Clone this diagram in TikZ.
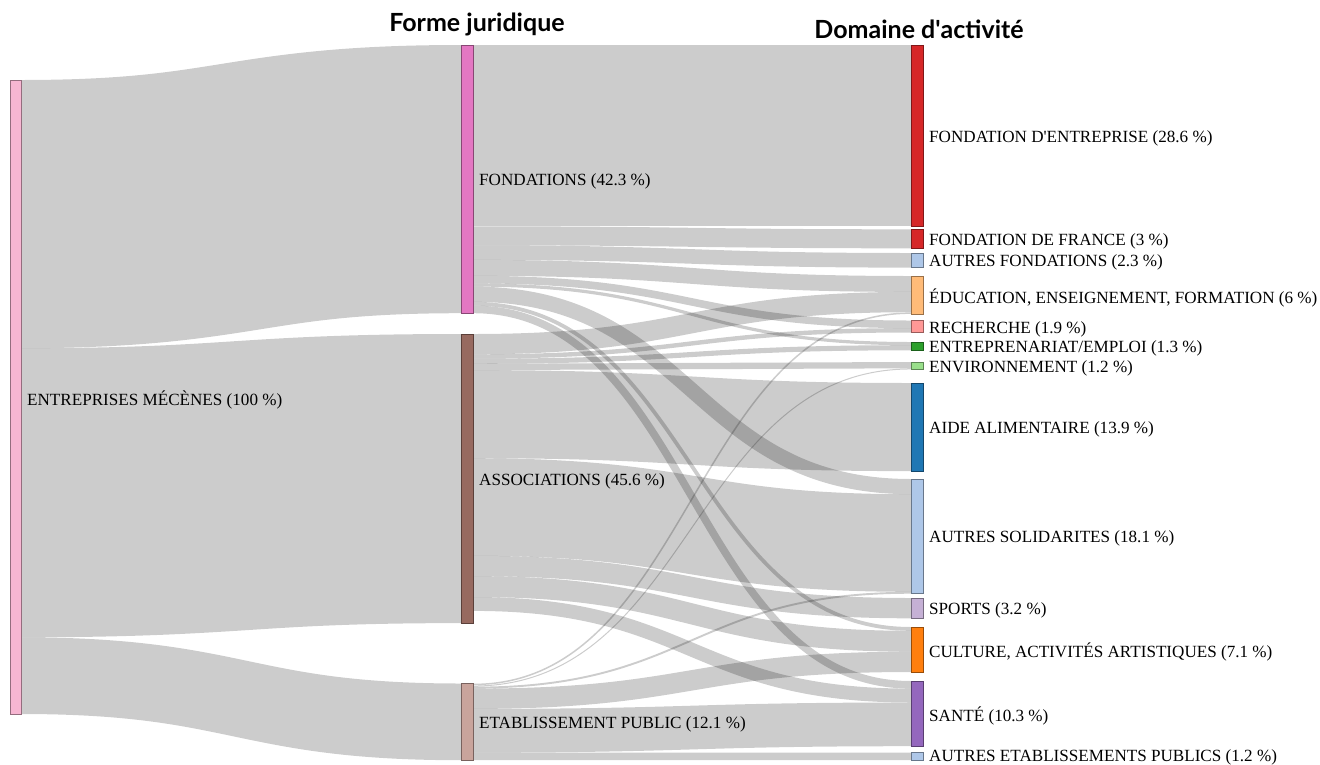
\documentclass[tikz,border=0pt]{standalone}
\usepackage{fontspec}
\setmainfont{Liberation Serif}
\newfontfamily\titlefont{Lato}
\usetikzlibrary{positioning,backgrounds}

\definecolor{pinkL}{HTML}{F7B6D2}
\definecolor{pink}{HTML}{E377C2}
\definecolor{brown}{HTML}{976A60}
\definecolor{brownL}{HTML}{C9A49C}
\definecolor{red}{HTML}{D62728}
\definecolor{redL}{HTML}{FF9896}
\definecolor{blue}{HTML}{1F77B4}
\definecolor{blueL}{HTML}{AEC7E8}
\definecolor{orange}{HTML}{FF7F0E}
\definecolor{orangeL}{HTML}{FFBB78}
\definecolor{green}{HTML}{2CA02C}
\definecolor{greenL}{HTML}{98DF8A}
\definecolor{purple}{HTML}{9467BD}
\definecolor{purpleL}{HTML}{C5B0D5}

\begin{document}
\begin{tikzpicture}[x=1pt,y=-1pt]
        % Define styles for bars, labels and flows
        \tikzstyle{bar}=[rectangle, inner sep=0pt, outer sep=0pt, minimum width=12pt, anchor=north west, line width=0.6pt]
        \tikzstyle{lbl}=[inner sep=0pt, yshift=-2.5pt, font=\fontsize{17.1}{19}\selectfont]
        \tikzstyle{link}=[draw=black, draw opacity=0.2]
        \tikzstyle{title}=[font=\titlefont\bfseries\fontsize{25}{28}\selectfont]

        \path[use as bounding box] (0,0) rectangle (1320,764);

        % Define bars, column 1 and 2
        \node[bar, fill=pinkL, draw=pinkL!60!black, minimum width=11pt, minimum height=634pt] (ent) at (10,80) {};
        \node[bar, fill=pink, draw=pink!60!black, minimum height=268.2pt] (fond) at (461,45) {};
        \node[bar, fill=brown, draw=brown!60!black, minimum height=289.1pt] (assoc) at (461,334) {};
        \node[bar, fill=brownL, draw=brownL!60!black, minimum height=76.7pt] (etab) at (461,683.5) {};

        % Define bars, column 3
        \node[bar, fill=red, draw=red!60!black, minimum height=181.3pt] (fde) at (911,45) {};
        \node[bar, fill=red, draw=red!60!black, minimum height=19pt] (fdf) at (911,229.3) {};
        \node[bar, fill=blueL, draw=blueL!60!black, minimum height=14.6pt] (afond) at (911,253) {};
        \node[bar, fill=orangeL, draw=orangeL!60!black, minimum height=38.1pt] (edu) at (911,276) {};
        \node[bar, fill=redL, draw=redL!60!black, minimum height=12pt] (rech) at (911,320.5) {};
        \node[bar, fill=green, draw=green!60!black, minimum height=8.3pt] (entr) at (911,342) {};
        \node[bar, fill=greenL, draw=greenL!60!black, minimum height=7.6pt] (envi) at (911,362) {};
        \node[bar, fill=blue, draw=blue!60!black, minimum height=88.1pt] (aide) at (911,383) {};
        \node[bar, fill=blueL, draw=blueL!60!black, minimum height=114.7pt] (asol) at (911,479) {};
        \node[bar, fill=purpleL, draw=purpleL!60!black, minimum height=20.3pt] (sport) at (911,598) {};
        \node[bar, fill=orange, draw=orange!60!black, minimum height=45pt] (cult) at (911,627) {};
        \node[bar, fill=purple, draw=purple!60!black, minimum height=65.2pt] (sante) at (911,681) {};
        \node[bar, fill=blueL, draw=blueL!60!black, minimum height=7.6pt] (aep) at (911,752.5) {};

        % Draw flows
        \begin{scope}[on background layer]
        \draw[link, line width=268.2pt] ([yshift=-134.1pt]ent.north east) .. controls +(220,0) and +(-220,0) .. ([yshift=-134.1pt]fond.north west);
        \draw[link, line width=289.1pt] ([yshift=-412.75pt]ent.north east) .. controls +(220,0) and +(-220,0) .. ([yshift=-144.55pt]assoc.north west);
        \draw[link, line width=76.7pt] ([yshift=-595.65pt]ent.north east) .. controls +(220,0) and +(-220,0) .. ([yshift=-38.35pt]etab.north west);

        \draw[link, line width=181.3pt] ([yshift=-90.65pt]fond.north east) .. controls +(219,0) and +(-219,0) .. ([yshift=-90.65pt]fde.north west);
        \draw[link, line width=19pt] ([yshift=-190.8pt]fond.north east) .. controls +(219,0) and +(-219,0) .. ([yshift=-9.5pt]fdf.north west);
        \draw[link, line width=14.6pt] ([yshift=-207.6pt]fond.north east) .. controls +(219,0) and +(-219,0) .. ([yshift=-7.3pt]afond.north west);
        \draw[link, line width=15.9pt] ([yshift=-222.85pt]fond.north east) .. controls +(219,0) and +(-219,0) .. ([yshift=-7.95pt]edu.north west);
        \draw[link, line width=7.6pt] ([yshift=-234.6pt]fond.north east) .. controls +(219,0) and +(-219,0) .. ([yshift=-3.8pt]rech.north west);
        \draw[link, line width=3.2pt] ([yshift=-240pt]fond.north east) .. controls +(219,0) and +(-219,0) .. ([yshift=-1.6pt]entr.north west);
        \draw[link, line width=15.2pt] ([yshift=-249.2pt]fond.north east) .. controls +(219,0) and +(-219,0) .. ([yshift=-7.6pt]asol.north west);
        \draw[link, line width=3.8pt] ([yshift=-258.7pt]fond.north east) .. controls +(219,0) and +(-219,0) .. ([yshift=-1.9pt]cult.north west);
        \draw[link, line width=7.6pt] ([yshift=-264.4pt]fond.north east) .. controls +(219,0) and +(-219,0) .. ([yshift=-3.8pt]sante.north west);

        \draw[link, line width=20.3pt] ([yshift=-10.15pt]assoc.north east) .. controls +(219,0) and +(-219,0) .. ([yshift=-26.05pt]edu.north west);
        \draw[link, line width=4.4pt] ([yshift=-22.5pt]assoc.north east) .. controls +(219,0) and +(-219,0) .. ([yshift=-9.8pt]rech.north west);
        \draw[link, line width=5.1pt] ([yshift=-27.25pt]assoc.north east) .. controls +(219,0) and +(-219,0) .. ([yshift=-5.75pt]entr.north west);
        \draw[link, line width=6.3pt] ([yshift=-32.95pt]assoc.north east) .. controls +(219,0) and +(-219,0) .. ([yshift=-3.15pt]envi.north west);
        \draw[link, line width=88.1pt] ([yshift=-80.15pt]assoc.north east) .. controls +(219,0) and +(-219,0) .. ([yshift=-44.05pt]aide.north west);
        \draw[link, line width=97.6pt] ([yshift=-173pt]assoc.north east) .. controls +(219,0) and +(-219,0) .. ([yshift=-64pt]asol.north west);
        \draw[link, line width=20.3pt] ([yshift=-231.95pt]assoc.north east) .. controls +(219,0) and +(-219,0) .. ([yshift=-10.15pt]sport.north west);
        \draw[link, line width=20.9pt] ([yshift=-252.55pt]assoc.north east) .. controls +(219,0) and +(-219,0) .. ([yshift=-14.25pt]cult.north west);
        \draw[link, line width=13.9pt] ([yshift=-269.95pt]assoc.north east) .. controls +(219,0) and +(-219,0) .. ([yshift=-14.55pt]sante.north west);

        \draw[link, line width=1.5pt] ([yshift=-0.95pt]etab.north east) .. controls +(219,0) and +(-219,0) .. ([yshift=-37.15pt]edu.north west);
        \draw[link, line width=1pt] ([yshift=-2.55pt]etab.north east) .. controls +(219,0) and +(-219,0) .. ([yshift=-6.95pt]envi.north west);
        \draw[link, line width=1.9pt] ([yshift=-4.15pt]etab.north east) .. controls +(219,0) and +(-219,0) .. ([yshift=-113.75pt]asol.north west);
        \draw[link, line width=20.3pt] ([yshift=-15.25pt]etab.north east) .. controls +(219,0) and +(-219,0) .. ([yshift=-34.85pt]cult.north west);
        \draw[link, line width=43.7pt] ([yshift=-47.25pt]etab.north east) .. controls +(219,0) and +(-219,0) .. ([yshift=-43.35pt]sante.north west);
        \draw[link, line width=7.6pt] ([yshift=-72.9pt]etab.north east) .. controls +(219,0) and +(-219,0) .. ([yshift=-3.8pt]aep.north west);
        \end{scope}

        % Labels
        \node[lbl, right=6pt of ent] (enttxt) {ENTREPRISES MÉCÈNES (100 \%)};
        \node[lbl, right=6pt of fond] (fondtxt) {FONDATIONS (42.3 \%)};
        \node[lbl, right=6pt of assoc] (assoctxt) {ASSOCIATIONS (45.6 \%)};
        \node[lbl, right=6pt of etab] (etabtxt) {ETABLISSEMENT PUBLIC (12.1 \%)};
        \node[lbl, right=6pt of fde] (fdetxt) {FONDATION D\textquotesingle ENTREPRISE (28.6 \%)};
        \node[lbl, right=6pt of fdf] (fdftxt) {FONDATION DE FRANCE (3 \%)};
        \node[lbl, right=6pt of afond] (afondtxt) {AUTRES FONDATIONS (2.3 \%)};
        \node[lbl, right=6pt of edu] (edutxt) {ÉDUCATION, ENSEIGNEMENT, FORMATION (6 \%)};
        \node[lbl, right=6pt of rech] (rechtxt) {RECHERCHE (1.9 \%)};
        \node[lbl, right=6pt of entr] (entrtxt) {ENTREPRENARIAT/EMPLOI (1.3 \%)};
        \node[lbl, right=6pt of envi] (envitxt) {ENVIRONNEMENT (1.2 \%)};
        \node[lbl, right=6pt of aide] (aidetxt) {AIDE ALIMENTAIRE (13.9 \%)};
        \node[lbl, right=6pt of asol] (asoltxt) {AUTRES SOLIDARITES (18.1 \%)};
        \node[lbl, right=6pt of sport] (sporttxt) {SPORTS (3.2 \%)};
        \node[lbl, right=6pt of cult] (culttxt) {CULTURE, ACTIVITÉS ARTISTIQUES (7.1 \%)};
        \node[lbl, right=6pt of sante] (santetxt) {SANTÉ (10.3 \%)};
        \node[lbl, right=6pt of aep, yshift=1.5pt] (aeptxt) {AUTRES ETABLISSEMENTS PUBLICS (1.2 \%)};

        % Column titles
        \node[title] (titre1) at (477,24) {Forme juridique};
        \node[title] (titre2) at (919,29) {Domaine d\textquotesingle activité};

      \end{tikzpicture}
\end{document}
